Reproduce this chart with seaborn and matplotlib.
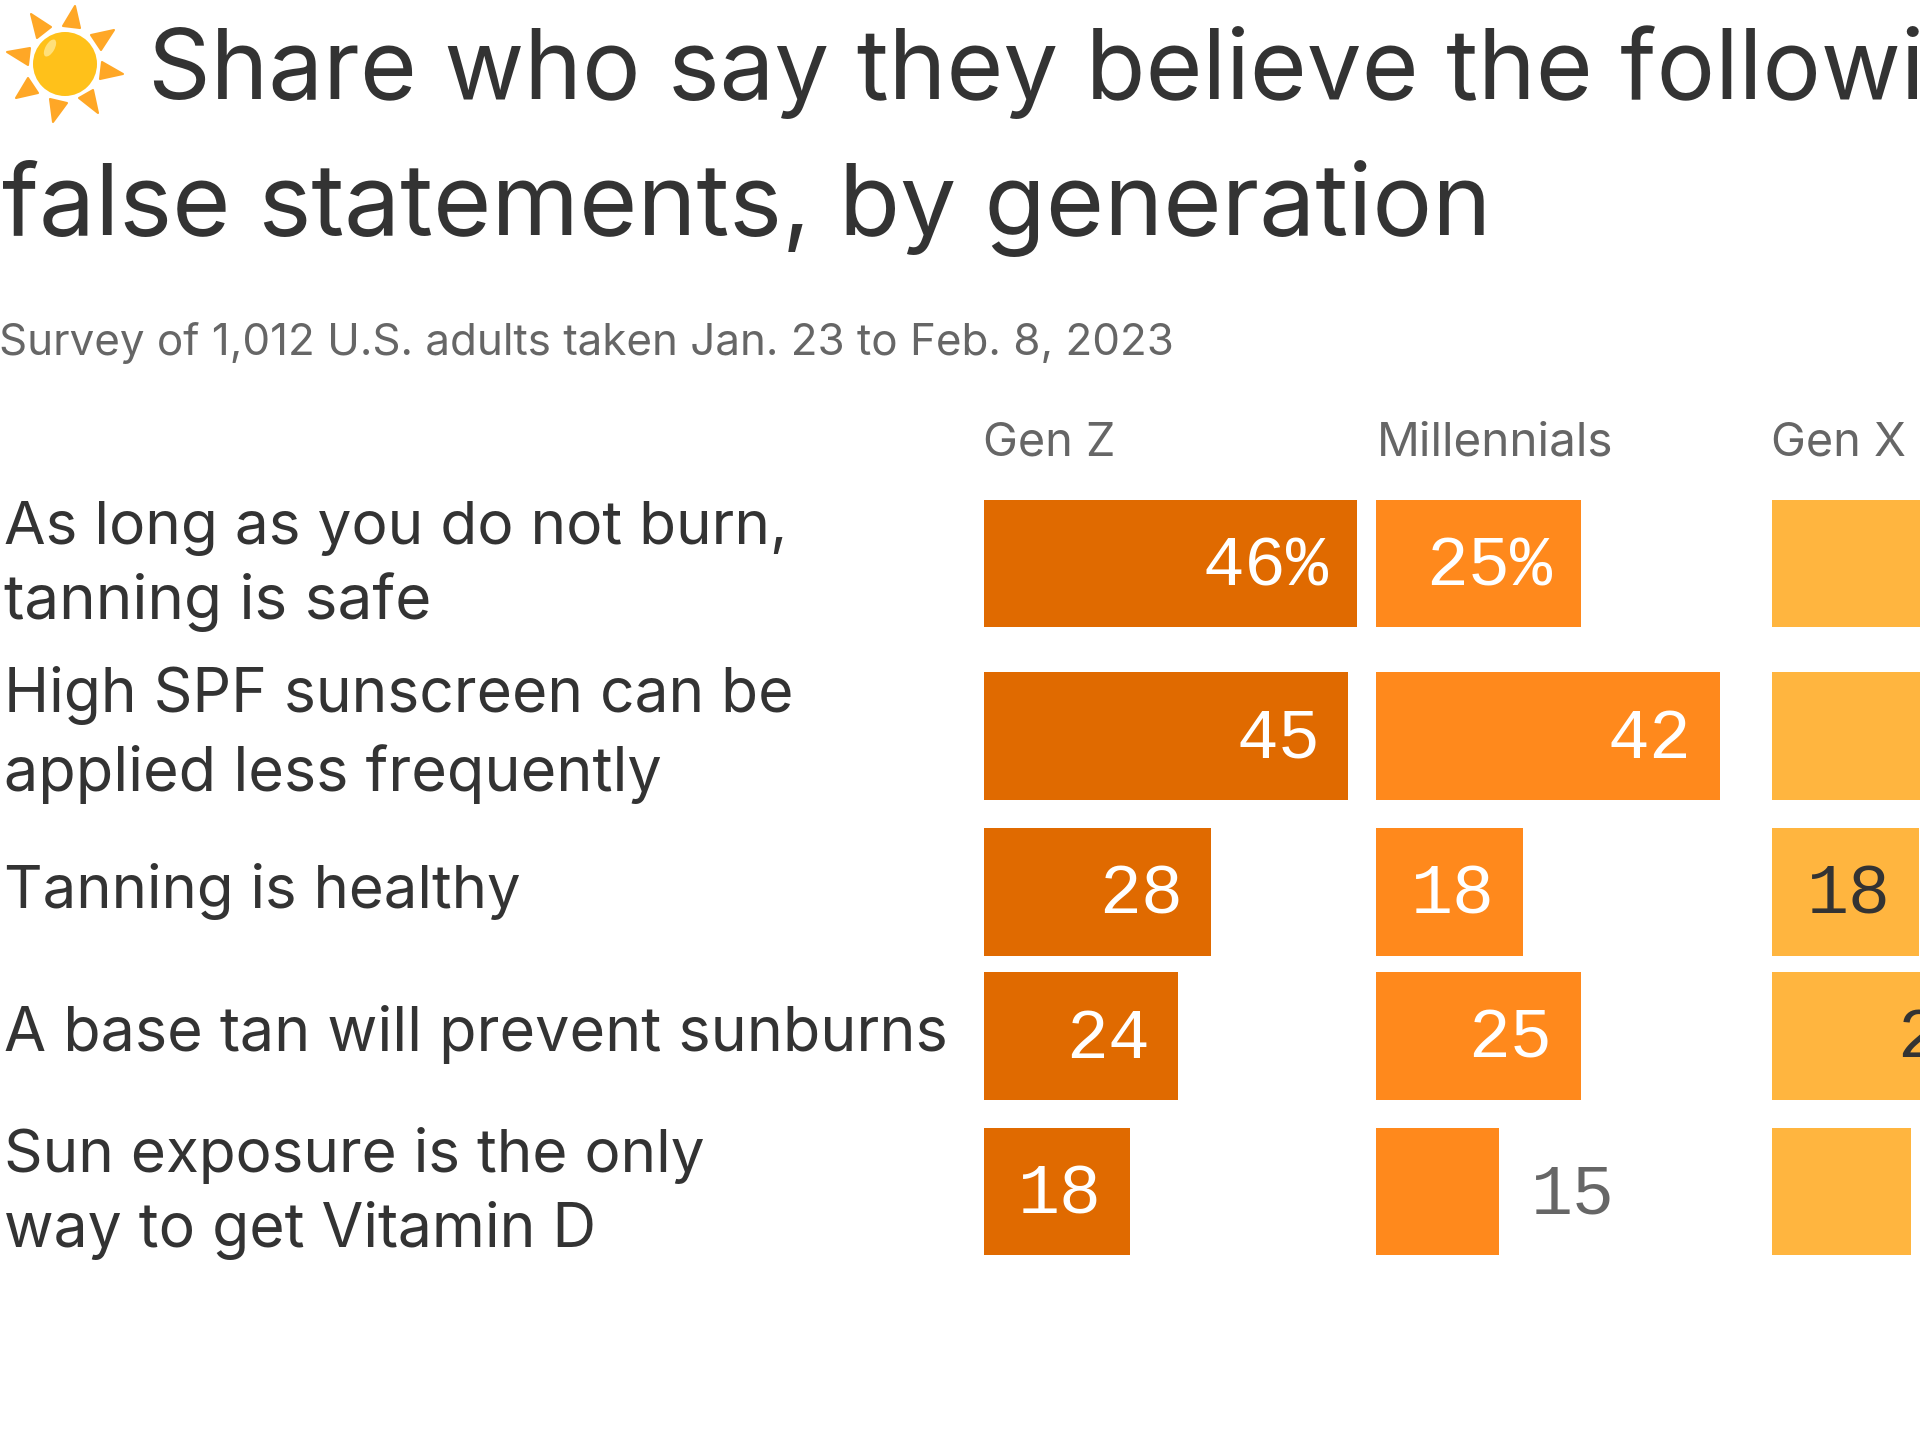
import matplotlib
matplotlib.use("Agg")
import matplotlib.pyplot as plt
import pandas as pd
import seaborn as sns
from matplotlib.font_manager import FontProperties
from matplotlib.patches import Circle, Ellipse, Polygon
from matplotlib.textpath import TextPath

# ---- data ----
statements = [
    "As long as you do not burn, tanning is safe",
    "High SPF sunscreen can be applied less frequently",
    "Tanning is healthy",
    "A base tan will prevent sunburns",
    "Sun exposure is the only way to get Vitamin D",
]
gen_z = [46, 45, 28, 24, 18]
millennials = [25, 42, 18, 25, 15]
gen_x = [38, 34, 18, 29, 17]  # first two run past the crop: estimates
generations = ["Gen Z", "Millennials", "Gen X"]
series = [gen_z, millennials, gen_x]

# ---- layout (pixels in a 1920x1440 canvas) ----
W, H = 1920, 1440
SANS = "Inter"
MONO = "Liberation Mono"
INK = "#333333"
GREY = "#666666"
row_centers = [563.5, 735.8, 891.9, 1036.0, 1191.7]
bar_h = 127.4
col_x0 = [984, 1376, 1772]
col_right = [1376, 1772, 1920]
col_scale = [8.1, 8.18, 8.19]
col_colors = ["#E06A00", "#FF891C", "#FFB53F"]
label_colors = ["white", "white", INK]
px = 0.72  # points per pixel at dpi=100

sns.set_theme(style="white")
plt.rcParams["font.family"] = [SANS, "DejaVu Sans"]

def fit(text, width, family=SANS):
    """Font size in points that gives the text the wanted width in pixels."""
    w = TextPath((0, 0), text, size=100, prop=FontProperties(family=family)).get_extents().width
    return 100 * width / w * px

fig = plt.figure(figsize=(W / 100, H / 100), dpi=100, facecolor="white")

for i, (gen, vals) in enumerate(zip(generations, series)):
    ax = fig.add_axes([col_x0[i] / W, 0, (col_right[i] - col_x0[i]) / W, 1])
    df = pd.DataFrame({"value": vals, "row": row_centers})
    sns.barplot(
        data=df, x="value", y="row", orient="y", native_scale=True,
        color=col_colors[i], saturation=1, linewidth=0,
        width=bar_h / (row_centers[3] - row_centers[2]), ax=ax,
    )
    ax.set_xlim(0, (col_right[i] - col_x0[i]) / col_scale[i])
    ax.set_ylim(H, 0)
    ax.axis("off")
    ax.patch.set_alpha(0)
    for r, v in enumerate(vals):
        txt = f"{v}%" if r == 0 else f"{v}"
        inside = v >= 18
        ax.annotate(
            txt, xy=(v, row_centers[r]),
            xytext=((-28 if inside else 32) * px, -22 * px), textcoords="offset points",
            ha="right" if inside else "left", va="baseline",
            family=MONO, fontsize=70 * px, annotation_clip=False,
            color=label_colors[i] if inside else GREY,
        )

# overlay in pixel coordinates for the titles, row labels and the sun icon
ov = fig.add_axes([0, 0, 1, 1])
ov.set_xlim(0, W)
ov.set_ylim(H, 0)
ov.axis("off")
ov.patch.set_alpha(0)

title_size = fit("false statements, by generation", 1480)
ov.text(148, 99, "Share who say they believe the following", fontsize=title_size * 0.976,
        color=INK, va="baseline", ha="left")
ov.text(2, 235, "false statements, by generation", fontsize=title_size,
        color=INK, va="baseline", ha="left")
sub = "Survey of 1,012 U.S. adults taken Jan. 23 to Feb. 8, 2023"
ov.text(-1, 355, sub, fontsize=fit(sub, 1171), color=GREY, va="baseline", ha="left")

head_widths = [127, 230, 131]
for gen, x, hw in zip(generations, [983, 1377, 1771], head_widths):
    ov.text(x, 455, gen, fontsize=fit(gen, hw), color=GREY, va="baseline", ha="left")

row_lines = [
    ("As long as you do not burn,", 544, 777),
    ("tanning is safe", 619, 424),
    ("High SPF sunscreen can be", 712, 781),
    ("applied less frequently", 791, 653),
    ("Tanning is healthy", 908, 512),
    ("A base tan will prevent sunburns", 1051, 939),
    ("Sun exposure is the only", 1172, 696),
    ("way to get Vitamin D", 1247, 587),
]
for line, y, w in row_lines:
    ov.text(4, y, line, fontsize=fit(line, w), color=INK, va="baseline", ha="left")

# sun icon
rays = [
    [(75, 6), (63, 26), (80, 28)],
    [(114, 30), (91, 35), (101, 50)],
    [(123, 74), (102, 62), (100, 79)],
    [(98, 113), (93, 90), (79, 98)],
    [(53, 122), (50, 99), (67, 103)],
    [(16, 98), (28, 78), (38, 93)],
    [(7, 52), (30, 48), (28, 65)],
    [(31, 14), (37, 38), (51, 27)],
]
for tri in rays:
    ov.add_patch(Polygon(tri, closed=True, facecolor="#FFA726", edgecolor="#FFA726",
                         linewidth=1.5, joinstyle="round"))
ov.add_patch(Circle((65, 64), 32, facecolor="#FFC11A", edgecolor="none"))
ov.add_patch(Ellipse((50, 48), 9, 19, angle=30, facecolor="#FFE07A", edgecolor="none"))

fig.savefig("out.png", dpi=100, facecolor="white")
